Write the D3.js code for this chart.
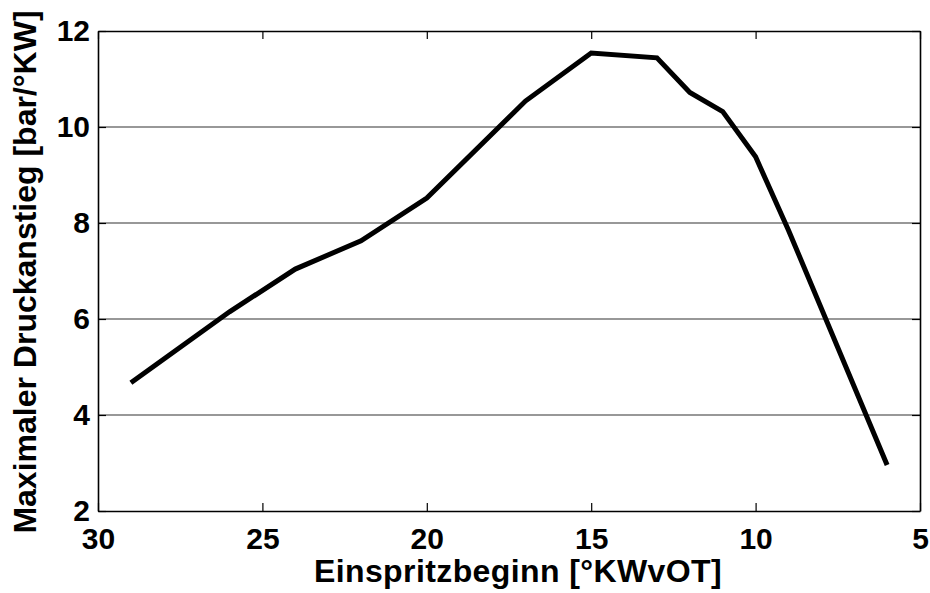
<!DOCTYPE html>
<html>
<head>
<meta charset="utf-8">
<script src="https://cdn.jsdelivr.net/npm/d3@7"></script>
<style>
  body { margin: 0; background: #fff; }
  text { font-family: "Liberation Sans", Arial, sans-serif; font-weight: bold; }
</style>
</head>
<body>
<svg id="chart"></svg>
<script>
// Data
const injectionStart = [29, 26, 24, 22, 20, 17, 15, 13, 12, 11, 10, 9, 6];
const maxPressureRise = [4.67, 6.15, 7.04, 7.63, 8.52, 10.54, 11.54, 11.44, 10.72, 10.32, 9.38, 7.85, 2.96];
const xTicks = [30, 25, 20, 15, 10, 5];
const yTicks = [2, 4, 6, 8, 10, 12];

const width = 930, height = 593;
const margin = { top: 31, right: 10, bottom: 82, left: 98 };
const iw = width - margin.left - margin.right;
const ih = height - margin.top - margin.bottom;

const svg = d3.select('#chart').attr('width', width).attr('height', height);
const g = svg.append('g').attr('transform', `translate(${margin.left},${margin.top})`);

const x = d3.scaleLinear().domain([30, 5]).range([0, iw]);
const y = d3.scaleLinear().domain([2, 12]).range([ih, 0]);

// horizontal grid
g.append('g')
  .selectAll('line')
  .data(yTicks.slice(1, -1))
  .enter().append('line')
  .attr('x1', 0).attr('x2', iw)
  .attr('y1', d => y(d)).attr('y2', d => y(d))
  .attr('stroke', '#333').attr('stroke-width', 1.2);

// axes (ticks pointing inward)
const xAxis = g.append('g')
  .attr('transform', `translate(0,${ih})`)
  .call(d3.axisBottom(x).tickValues(xTicks).tickSizeInner(-8).tickSizeOuter(0).tickPadding(17));
const xTop = g.append('g')
  .call(d3.axisTop(x).tickValues(xTicks).tickSizeInner(-8).tickSizeOuter(0).tickFormat(''));
const yAxis = g.append('g')
  .call(d3.axisLeft(y).tickValues(yTicks).tickSizeInner(-8).tickSizeOuter(0).tickPadding(8));
const yRight = g.append('g')
  .attr('transform', `translate(${iw},0)`)
  .call(d3.axisRight(y).tickValues(yTicks).tickSizeInner(-8).tickSizeOuter(0).tickFormat(''));

[xAxis, xTop, yAxis, yRight].forEach(a => {
  a.select('.domain').attr('stroke', '#000').attr('stroke-width', 1.6);
  a.selectAll('.tick line').attr('stroke', '#000').attr('stroke-width', 1.2);
});
[xAxis, yAxis].forEach(a => {
  a.selectAll('.tick text')
    .attr('font-size', 30)
    .attr('fill', '#000')
    .attr('font-family', '"Liberation Sans", Arial, sans-serif')
    .attr('font-weight', 'bold');
});

// curve
const line = d3.line()
  .x((d, i) => x(injectionStart[i]))
  .y(d => y(d));

g.append('path')
  .datum(maxPressureRise)
  .attr('fill', 'none')
  .attr('stroke', '#000')
  .attr('stroke-width', 5)
  .attr('stroke-linejoin', 'miter')
  .attr('d', line);

// axis titles
svg.append('text')
  .attr('x', 518)
  .attr('y', 582)
  .attr('text-anchor', 'middle')
  .attr('font-size', 32)
  .attr('letter-spacing', 0.4)
  .text('Einspritzbeginn [°KWvOT]');

svg.append('text')
  .attr('transform', 'translate(36,272) rotate(-90)')
  .attr('text-anchor', 'middle')
  .attr('font-size', 32)
  .text('Maximaler Druckanstieg [bar/°KW]');
</script>
</body>
</html>
